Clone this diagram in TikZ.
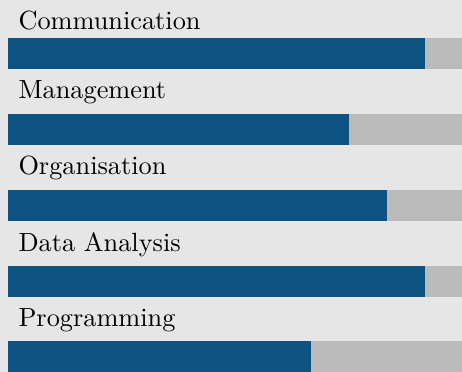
\documentclass[tikz,border=0pt]{standalone}
\definecolor{skillblue}{RGB}{14,84,130}
\definecolor{skillgray}{RGB}{187,187,187}
\definecolor{skillbg}{RGB}{230,230,230}
\tikzset{
    skill/.style={anchor=base west, inner sep=0pt},
    track/.style={fill=skillgray},
    level/.style={fill=skillblue}
}
\begin{document}
\begin{tikzpicture}[x=0.38pt,y=-0.38pt]
        \fill[skillbg] (0,0) rectangle (462,372);
        \useasboundingbox (0,0) rectangle (462,372);

        \fill[track] (8,38) rectangle (462,69);
        \fill[track] (8,114) rectangle (462,145);
        \fill[track] (8,190) rectangle (462,221);
        \fill[track] (8,266) rectangle (462,297);
        \fill[track] (8,341) rectangle (462,372);

        \fill[level] (8,38) rectangle (425,69);
        \fill[level] (8,114) rectangle (349,145);
        \fill[level] (8,190) rectangle (387,221);
        \fill[level] (8,266) rectangle (425,297);
        \fill[level] (8,341) rectangle (311,372);

        \node[skill] (communication) at (18,30) {Communication};
        \node[skill] (management) at (18,99) {Management};
        \node[skill] (organisation) at (18,175) {Organisation};
        \node[skill] (analysis) at (18,251.5) {Data Analysis};
        \node[skill] (programming) at (18,326.5) {Programming};

    \end{tikzpicture}
\end{document}
